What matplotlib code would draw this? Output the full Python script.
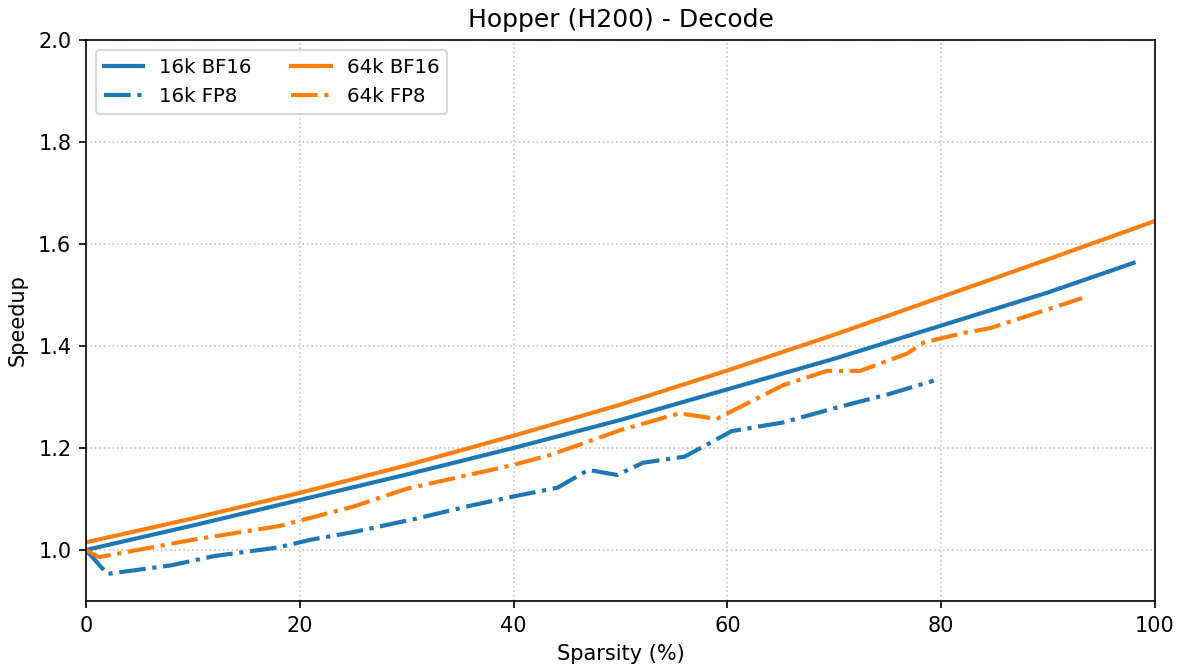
import matplotlib
matplotlib.use("Agg")
import matplotlib.pyplot as plt

# speedup vs sparsity
bf16_16k_x = [0, 10, 20, 30, 40, 50, 60, 70, 80, 90, 98]
bf16_16k_y = [1.0, 1.048, 1.098, 1.148, 1.200, 1.255, 1.315, 1.375, 1.440, 1.505, 1.563]

bf16_64k_x = [0, 10, 20, 30, 40, 50, 60, 70, 80, 90, 100]
bf16_64k_y = [1.015, 1.062, 1.112, 1.166, 1.224, 1.285, 1.352, 1.422, 1.496, 1.570, 1.645]

fp8_16k_x = [0, 2, 8, 12, 18, 21, 25, 31, 36, 40, 44.1, 47, 49.7, 52.1, 56, 60.4, 65.2, 70, 75, 79.3]
fp8_16k_y = [1.0, 0.953, 0.970, 0.988, 1.005, 1.020, 1.035, 1.062, 1.087, 1.105, 1.122, 1.157, 1.147, 1.171, 1.183, 1.233, 1.250, 1.278, 1.305, 1.332]

fp8_64k_x = [0, 1.2, 10, 18.1, 25, 30, 40, 43.4, 50, 55.5, 59, 65.2, 69.3, 72.4, 76.8, 78.4, 82, 84.6, 93.2]
fp8_64k_y = [1.0, 0.986, 1.020, 1.047, 1.085, 1.120, 1.167, 1.186, 1.235, 1.268, 1.257, 1.323, 1.351, 1.351, 1.385, 1.407, 1.425, 1.435, 1.494]

fig = plt.figure(figsize=(1184 / 150, 672 / 150), dpi=150)
ax = fig.add_axes([0.0726, 0.1057, 0.9029, 0.8348])

ax.plot(bf16_16k_x, bf16_16k_y, color='#1f77b4', lw=2, label='16k BF16')
ax.plot(fp8_16k_x, fp8_16k_y, color='#1f77b4', lw=2, ls='-.', label='16k FP8')
ax.plot(bf16_64k_x, bf16_64k_y, color='#ff7f0e', lw=2, label='64k BF16')
ax.plot(fp8_64k_x, fp8_64k_y, color='#ff7f0e', lw=2, ls='-.', label='64k FP8')

ax.set_xlim(0, 100)
ax.set_ylim(0.9, 2.0)
ax.set_yticks([1.0, 1.2, 1.4, 1.6, 1.8, 2.0])
ax.grid(True, ls=':', alpha=0.7)
ax.set_xlabel('Sparsity (%)')
ax.set_ylabel('Speedup', labelpad=5)
ax.set_title('Hopper (H200) - Decode')
ax.legend(ncol=2, loc='upper left', fontsize=9.5)

fig.savefig('out.png', dpi=150)
